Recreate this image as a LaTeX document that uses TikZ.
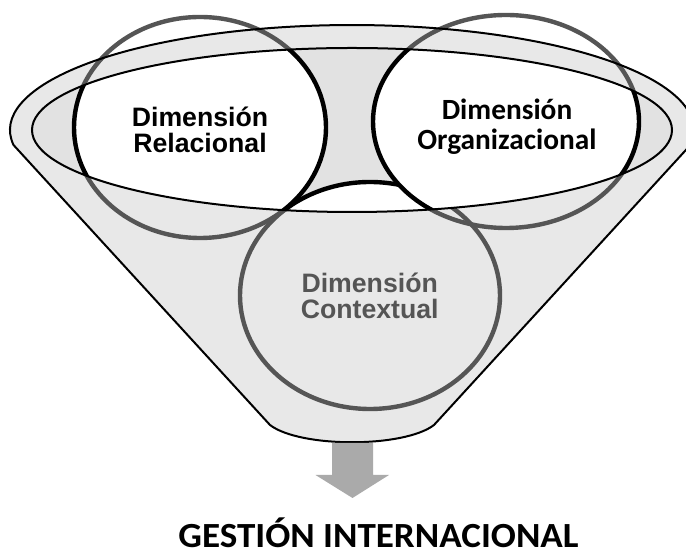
\documentclass[tikz,border=0pt]{standalone}
\usepackage{fontspec}
\setmainfont{Liberation Sans}
\newfontfamily\arialfont{Liberation Sans}
\newfontfamily\calibrifont{Carlito}
\newfontfamily\titlefont[FakeStretch=1.05]{Carlito}
\usetikzlibrary{positioning}

\definecolor{funnelgray}{RGB}{232,232,232}
\definecolor{mouthgray}{RGB}{226,226,226}
\definecolor{ringgray}{RGB}{85,85,85}
\definecolor{arrowgray}{RGB}{170,170,170}

\begin{document}
\begin{tikzpicture}[
  x=0.75pt, y=0.75pt,
  rim/.style={draw=black, line width=1.5pt},
  ring/.style={line width=3.3pt},
  dimlabel/.style={align=center, inner sep=0pt,
                   font=\arialfont\bfseries\fontsize{20}{19.5}\selectfont},
  orglabel/.style={align=center, inner sep=0pt,
                   font=\calibrifont\bfseries\fontsize{22}{22.5}\selectfont},
  titlelabel/.style={anchor=base, inner sep=0pt,
                   font=\titlefont\bfseries\fontsize{26.5}{28}\selectfont},
]
\useasboundingbox (0,0) rectangle (686,556);

% ---- centres ----
\coordinate (mouth) at (352,426);
\coordinate (rel)   at (200,428.5);
\coordinate (org)   at (506,434.5);
\coordinate (ctx)   at (370,260.5);
\coordinate (spout) at (352.5,113);

% ---- funnel body ----
\fill[funnelgray] (13.5,411) arc[start angle=188.2, end angle=-8.2, x radius=342, y radius=105]
  -- (434,131) .. controls (404,108) and (300,108) .. (270,131) -- cycle;

% ---- rings seen through the funnel ----
\foreach \c/\rx/\ry in {ctx/130/113.5, rel/126/110.5, org/133/106.5}
  \draw[ring, ringgray] (\c) ellipse[x radius=\rx, y radius=\ry];

% ---- open mouth ----
\begin{scope}
  \clip (mouth) ellipse[x radius=320, y radius=82];
  \fill[mouthgray] (mouth) ellipse[x radius=320, y radius=82];
  \foreach \c/\rx/\ry in {ctx/130/113.5, rel/126/110.5, org/133/106.5}
    \draw[ring, fill=white] (\c) ellipse[x radius=\rx, y radius=\ry];
\end{scope}

% ---- funnel outline ----
\draw[rim] (13.5,411) arc[start angle=188.2, end angle=-8.2, x radius=342, y radius=105]
  -- (434,131) .. controls (404,108) and (300,108) .. (270,131) -- cycle;
\draw[rim] (mouth) ellipse[x radius=320, y radius=82];

% ---- labels ----
\node[dimlabel] (relText) at (200,426.5) {Dimensión\\Relacional};
\node[orglabel] (orgText) at (507,429.5) {Dimensión\\Organizacional};
\node[dimlabel, text=ringgray] (ctxText) at (369.7,260) {Dimensión\\Contextual};

% ---- output arrow ----
\fill[arrowgray] (spout) ++(-20.5,0) -- ++(41,0) -- ++(0,-32) -- ++(16,0)
  -- ++(-36.5,-23) -- ++(-37,23) -- ++(16.5,0) -- cycle;

\node[titlelabel] (result) at (378.5,8) {GESTIÓN INTERNACIONAL};
\end{tikzpicture}
\end{document}
